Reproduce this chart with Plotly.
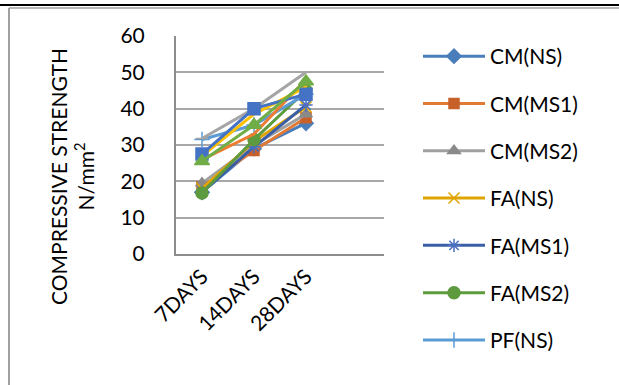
import plotly.graph_objects as go

# ---- data ----
categories = ["7DAYS", "14DAYS", "28DAYS"]
cm_ns = [17.0, 29.0, 36.0]
cm_ms1 = [18.5, 28.5, 37.5]
cm_ms2 = [19.5, 30.0, 38.5]
fa_ns = [18.0, 31.0, 40.5]
fa_ms1 = [17.0, 29.5, 41.0]
fa_ms2 = [16.8, 31.5, 45.0]
pf_ns = [31.5, 35.5, 44.0]
pf_ms1 = [27.5, 40.0, 44.0]
pf_ms2 = [25.5, 35.5, 47.5]
extra_gray = [31.8, 40.0, 50.0]
extra_orange = [26.0, 33.0, 48.0]
extra_gold = [27.0, 38.5, 46.0]

y_ticks = [0, 10, 20, 30, 40, 50, 60]

W, H = 619, 385
L, R, T, B = 176, 384, 36, 254   # plot area pixels


def px(x):
    return (x - L) / (R - L)


def py(y):
    return (B - y) / (B - T)


xs = list(range(len(categories)))

series = [
    # name, values, line color, marker symbol, marker color, size, legend
    ("SERIES10", extra_gray, "#A5A5A5", "line-ew-open", "#A5A5A5", 9, False),
    ("SERIES11", extra_orange, "#ED7D31", "circle", "#ED7D31", 1, False),
    ("SERIES12", extra_gold, "#FFC000", "circle", "#FFC000", 1, False),
    ("CM(NS)", cm_ns, "#4A7EBB", "diamond", "#4A7EBB", 11, True),
    ("CM(MS1)", cm_ms1, "#E07A35", "square", "#C8602A", 10, True),
    ("CM(MS2)", cm_ms2, "#A0A0A0", "triangle-up", "#8A8A8A", 11, True),
    ("FA(NS)", fa_ns, "#E0A400", "x-thin-open", "#E0A400", 11, True),
    ("FA(MS1)", fa_ms1, "#3B5EA8", "asterisk-open", "#4A6FC0", 11, True),
    ("FA(MS2)", fa_ms2, "#5E9A3E", "circle", "#5E9A3E", 12, True),
    ("PF(NS)", pf_ns, "#5B9BD5", "cross-thin-open", "#5B9BD5", 11, True),
    ("PF(MS1)", pf_ms1, "#4472C4", "square", "#4472C4", 12, False),
    ("PF(MS2)", pf_ms2, "#70AD47", "triangle-up", "#70AD47", 13, False),
]

fig = go.Figure()
order = [3, 4, 5, 6, 7, 8, 9, 0, 1, 2, 10, 11]
for i in order:
    name, vals, lc, sym, mc, sz, show = series[i]
    fig.add_trace(go.Scatter(
        x=xs, y=vals, name=name, mode="lines+markers",
        line=dict(color=lc, width=3),
        marker=dict(symbol=sym, color=mc, size=sz,
                    line=dict(color=mc, width=1.5)),
        showlegend=show, legendgroup=name,
    ))

fig.update_layout(
    width=W, height=H,
    margin=dict(l=L, r=W - R, t=T, b=H - B, pad=0),
    paper_bgcolor="white", plot_bgcolor="white",
    font=dict(family="Lato, Open Sans, sans-serif", size=21, color="black"),
    showlegend=True,
    legend=dict(x=px(418), y=py(36), xanchor="left", yanchor="top",
                font=dict(size=21), tracegroupgap=17, bgcolor="rgba(0,0,0,0)",
                itemwidth=62, maxheight=380),
    xaxis=dict(range=[-0.5, 3.5], tickvals=xs, ticktext=categories,
               tickangle=-45, showgrid=False, zeroline=False,
               showline=True, linecolor="#8C8C8C", linewidth=2,
               tickfont=dict(size=21)),
    yaxis=dict(range=[0, 60], tickvals=y_ticks, showgrid=True,
               gridcolor="#A8A8A8", gridwidth=2, zeroline=False,
               showline=True, linecolor="#8C8C8C", linewidth=2,
               ticklabelstandoff=25, tickfont=dict(size=21)),
    annotations=[dict(
        text="COMPRESSIVE STRENGTH<br>N/mm<sup>2</sup>",
        x=px(72), y=py(177), xref="paper", yref="paper",
        textangle=-90, showarrow=False, font=dict(size=21),
        xanchor="center", yanchor="middle",
    )],
    shapes=[
        dict(type="line", xref="paper", yref="paper",
             x0=px(9), x1=px(9), y0=py(8), y1=py(400),
             line=dict(color="#A0A0A0", width=2)),
        dict(type="line", xref="paper", yref="paper",
             x0=px(9), x1=px(625), y0=py(8), y1=py(8),
             line=dict(color="#A0A0A0", width=1.5)),
        dict(type="line", xref="paper", yref="paper",
             x0=px(-5), x1=px(625), y0=py(5), y1=py(5),
             line=dict(color="black", width=2)),
    ],
)

fig.write_html("out.html")
